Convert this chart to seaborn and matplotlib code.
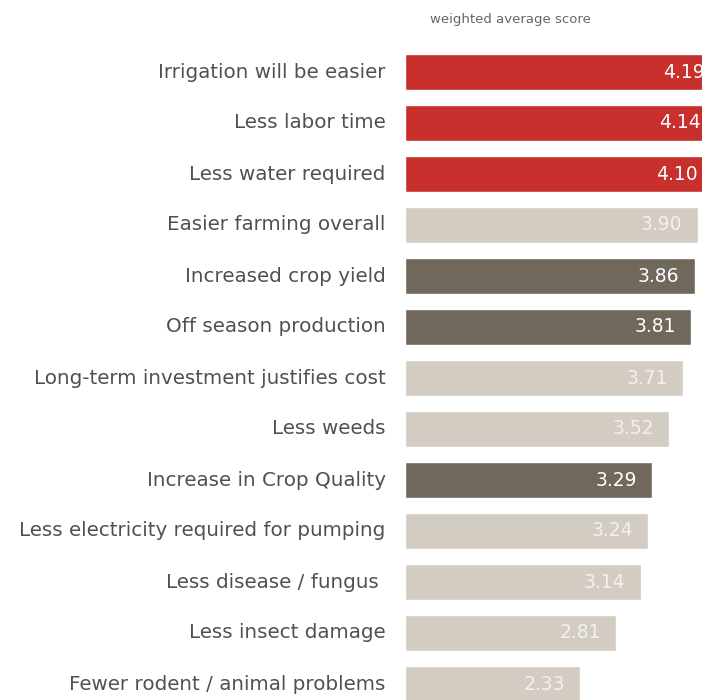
import matplotlib
matplotlib.use("Agg")
import matplotlib.pyplot as plt
import seaborn as sns
import pandas as pd

categories = [
    "Irrigation will be easier",
    "Less labor time",
    "Less water required",
    "Easier farming overall",
    "Increased crop yield",
    "Off season production",
    "Long-term investment justifies cost",
    "Less weeds",
    "Increase in Crop Quality",
    "Less electricity required for pumping",
    "Less disease / fungus ",
    "Less insect damage",
    "Fewer rodent / animal problems",
]
scores = [4.19, 4.14, 4.10, 3.90, 3.86, 3.81, 3.71, 3.52, 3.29, 3.24, 3.14, 2.81, 2.33]
groups = ["top", "top", "top", "other", "highlight", "highlight", "other", "other",
          "highlight", "other", "other", "other", "other"]
value_labels = ["4.19", "4.14", "4.10", "3.90", "3.86", "3.81", "3.71", "3.52",
                "3.29", "3.24", "3.14", "2.81", "2.33"]

palette = {"top": "#C8302E", "highlight": "#6F685B", "other": "#D3CCC3"}

df = pd.DataFrame({"category": categories, "score": scores, "group": groups})

sns.set_theme(style="white")
plt.rcParams["font.family"] = ["DejaVu Sans"]

fig = plt.figure(figsize=(7.02, 7.00), dpi=100)
W, H = 702, 700
ax = fig.add_axes([405 / W, 0, (W - 405) / W, 1])

sns.barplot(data=df, y="category", x="score", hue="group", palette=palette,
            dodge=False, legend=False, width=0.72, ax=ax, orient="h",
            saturation=1, order=categories)

ax.set_xlim(0, (W - 405) / 75.0)
ax.set_ylim((H - 72) / 51.0, -72 / 51.0)
for s in ax.spines.values():
    s.set_visible(False)
ax.set_xticks([])
ax.set_xlabel("")
ax.set_ylabel("")
ax.tick_params(axis="y", length=0, pad=14, labelsize=14.3, labelcolor="#505050")
for t in ax.get_yticklabels():
    t.set_verticalalignment("center")

for i, (v, lab, g) in enumerate(zip(scores, value_labels, groups)):
    col = "#FFFFFF" if g != "other" else "#F4F1EC"
    ax.text(v - 0.2, i, lab, ha="right", va="center", fontsize=13.5,
            color=col, clip_on=False)

fig.text(510 / W, 1 - 20 / H, "weighted average score", ha="center", va="center",
         fontsize=9.5, color="#666666")

fig.savefig("out.png", dpi=100)
